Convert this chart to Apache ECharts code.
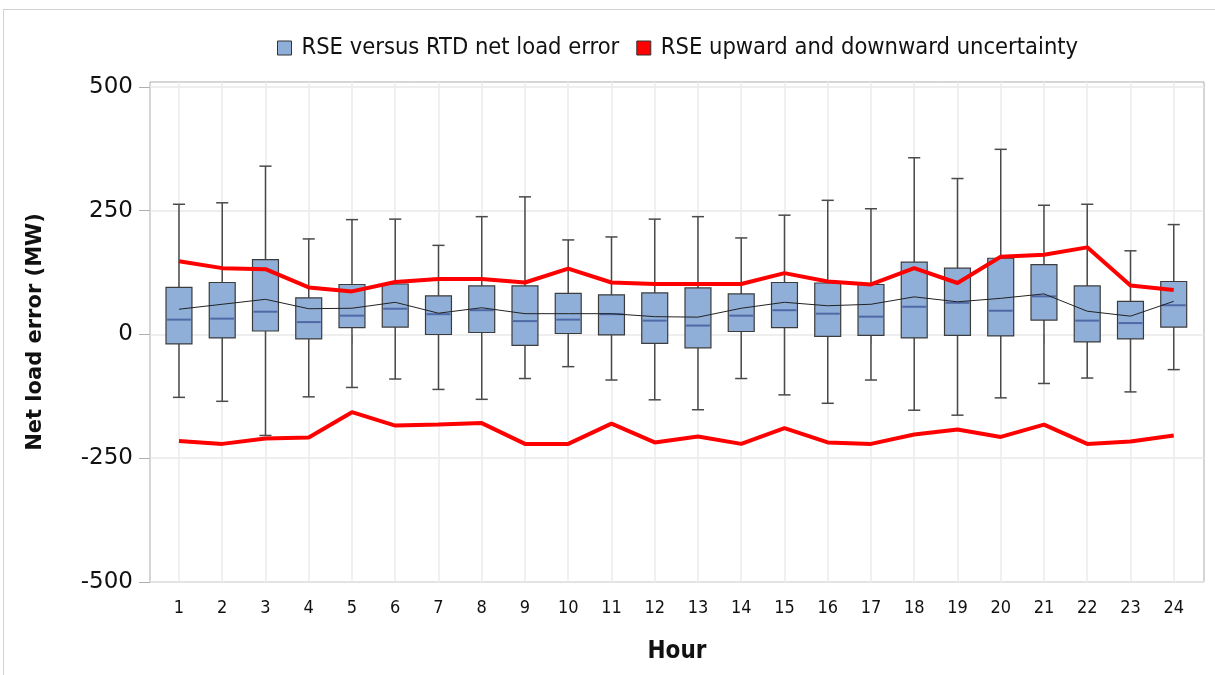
<!DOCTYPE html>
<html>
<head>
<meta charset="utf-8">
<script src="https://cdn.jsdelivr.net/npm/echarts@6/dist/echarts.min.js"></script>
<style>
html,body{margin:0;padding:0;background:#fff;overflow:hidden;width:1215px;height:675px;}
#charts{position:absolute;left:0;top:0;width:1215px;height:675px;}
#frame{position:absolute;left:3px;top:9px;width:1300px;height:800px;border-left:1px solid #d2d2d2;border-top:1px solid #d2d2d2;pointer-events:none;}
</style>
</head>
<body>
<div id="charts"></div>
<div id="frame"></div>
<script>
// hour of day
var hours = [1, 2, 3, 4, 5, 6, 7, 8, 9, 10, 11, 12, 13, 14, 15, 16, 17, 18, 19, 20, 21, 22, 23, 24];
// box plot of RSE versus RTD net load error (MW)
var whiskerLow = [-127, -135, -204, -126, -107, -90, -111, -131, -89, -65, -92, -132, -152, -89, -122, -139, -92, -153, -163, -128, -99, -88, -116, -71];
var q1 = [-19, -7, 7, -9, 14, 15, 0, 4, -22, 2, -1, -18, -27, 6, 14, -4, -2, -7, -2, -3, 29, -15, -9, 15];
var median = [30, 32, 46, 25, 38, 52, 41, 49, 27, 30, 41, 28, 18, 38, 49, 42, 36, 56, 64, 48, 77, 28, 23, 59];
var q3 = [95, 105, 151, 74, 101, 102, 78, 98, 98, 83, 80, 84, 94, 82, 105, 104, 101, 146, 134, 154, 141, 98, 67, 107];
var whiskerHigh = [263, 266, 340, 193, 232, 233, 180, 238, 278, 191, 197, 233, 238, 195, 241, 271, 254, 357, 315, 374, 261, 263, 169, 222];
var mean = [51, 61, 71, 52, 53, 65, 43, 54, 42, 42, 42, 36, 35, 53, 65, 58, 61, 76, 66, 73, 82, 47, 37, 67];
// RSE uncertainty bands
var upward = [148, 134, 132, 95, 87, 106, 112, 112, 105, 133, 105, 102, 102, 102, 124, 107, 101, 134, 104, 157, 161, 176, 99, 90];
var downward = [-215, -221, -210, -208, -157, -184, -182, -179, -221, -221, -180, -218, -206, -221, -189, -218, -221, -202, -192, -207, -182, -221, -216, -204];
var yTicks = [-500, -250, 0, 250, 500];

var boxName = 'RSE versus RTD net load error';
var bandName = 'RSE upward and downward uncertainty';
var narrow = "'Liberation Sans Narrow', 'DejaVu Sans Condensed', sans-serif";

var boxData = [];
var meanData = [];
var upData = [];
var downData = [];
for (var i = 0; i < hours.length; i++) {
    boxData.push([hours[i], whiskerLow[i], q1[i], median[i], q3[i], whiskerHigh[i]]);
    meanData.push([hours[i], mean[i]]);
    upData.push([hours[i], upward[i]]);
    downData.push([hours[i], downward[i]]);
}

function renderBox(params, api) {
    var x = api.value(0);
    var lo = api.coord([x, api.value(1)]);
    var b1 = api.coord([x, api.value(2)]);
    var md = api.coord([x, api.value(3)]);
    var b3 = api.coord([x, api.value(4)]);
    var hi = api.coord([x, api.value(5)]);
    var band = api.size([1, 0])[0];
    var bw = band * 0.6;
    var cw = band * 0.28;
    var cx = lo[0];
    var ws = {stroke: '#4a4a4a', lineWidth: 1.5};
    return {
        type: 'group',
        children: [
            {type: 'line', shape: {x1: cx, y1: hi[1], x2: cx, y2: b3[1]}, style: ws},
            {type: 'line', shape: {x1: cx, y1: b1[1], x2: cx, y2: lo[1]}, style: ws},
            {type: 'line', shape: {x1: cx - cw / 2, y1: hi[1], x2: cx + cw / 2, y2: hi[1]}, style: ws},
            {type: 'line', shape: {x1: cx - cw / 2, y1: lo[1], x2: cx + cw / 2, y2: lo[1]}, style: ws},
            {type: 'rect', shape: {x: cx - bw / 2, y: b3[1], width: bw, height: b1[1] - b3[1]},
                style: {fill: '#8fafd8', stroke: '#3c3c3c', lineWidth: 1.2}},
            {type: 'line', shape: {x1: cx - bw / 2 + 1, y1: md[1], x2: cx + bw / 2 - 1, y2: md[1]},
                style: {stroke: '#4f68a6', lineWidth: 2}}
        ]
    };
}

var myChart = echarts.init(document.getElementById('charts'));
myChart.setOption({
    animation: false,
    legend: {
        left: 272,
        top: 31,
        itemWidth: 14,
        itemHeight: 14,
        itemGap: 17,
        textStyle: {fontFamily: narrow, fontSize: 23.5, color: '#111', padding: [0, 0, 0, 5]},
        data: [
            {name: boxName, icon: 'rect', itemStyle: {color: '#8fafd8', borderColor: '#333', borderWidth: 1}},
            {name: bandName, icon: 'rect', itemStyle: {color: '#ff0000', borderColor: '#333', borderWidth: 1}}
        ]
    },
    grid: {
        left: 150, top: 82, width: 1054, height: 500,
        show: true, borderColor: '#a8acb0', borderWidth: 1
    },
    xAxis: {
        type: 'value',
        min: 0.33,
        max: 24.7,
        name: 'Hour',
        nameLocation: 'middle',
        nameGap: 58,
        nameTextStyle: {fontFamily: narrow, fontSize: 24, fontWeight: 'bold', color: '#111'},
        axisLine: {show: false},
        axisTick: {show: true, customValues: hours, length: 9, lineStyle: {color: '#b0b0b0'}},
        axisLabel: {customValues: hours, margin: 17, fontFamily: narrow, fontSize: 18, color: '#111'},
        splitLine: {show: true, lineStyle: {color: '#ebebeb', width: 1.5}}
    },
    yAxis: {
        type: 'value',
        min: -500,
        max: 510,
        name: 'Net load error (MW)',
        nameLocation: 'middle',
        nameGap: 104,
        nameTextStyle: {fontFamily: 'DejaVu Sans', fontSize: 21, fontWeight: 'bold', color: '#111'},
        axisLine: {show: false},
        axisTick: {show: true, customValues: yTicks, length: 11, lineStyle: {color: '#b0b0b0'}},
        axisLabel: {customValues: yTicks, margin: 17, fontFamily: 'DejaVu Sans', fontSize: 23, color: '#111'},
        splitLine: {show: true, lineStyle: {color: '#e8e8e8', width: 1.5}}
    },
    series: [
        {
            name: boxName,
            type: 'custom',
            renderItem: renderBox,
            itemStyle: {color: '#8fafd8'},
            encode: {x: 0, y: [1, 2, 3, 4, 5]},
            data: boxData,
            z: 2
        },
        {
            name: 'Mean',
            type: 'line',
            data: meanData,
            symbol: 'none',
            lineStyle: {color: '#222', width: 1},
            itemStyle: {color: '#222'},
            z: 3
        },
        {
            name: bandName,
            type: 'line',
            data: upData,
            symbol: 'none',
            lineStyle: {color: '#ff0000', width: 4},
            itemStyle: {color: '#ff0000'},
            z: 4
        },
        {
            name: bandName,
            type: 'line',
            data: downData,
            symbol: 'none',
            lineStyle: {color: '#ff0000', width: 4},
            itemStyle: {color: '#ff0000'},
            z: 4
        }
    ]
});
</script>
</body>
</html>
